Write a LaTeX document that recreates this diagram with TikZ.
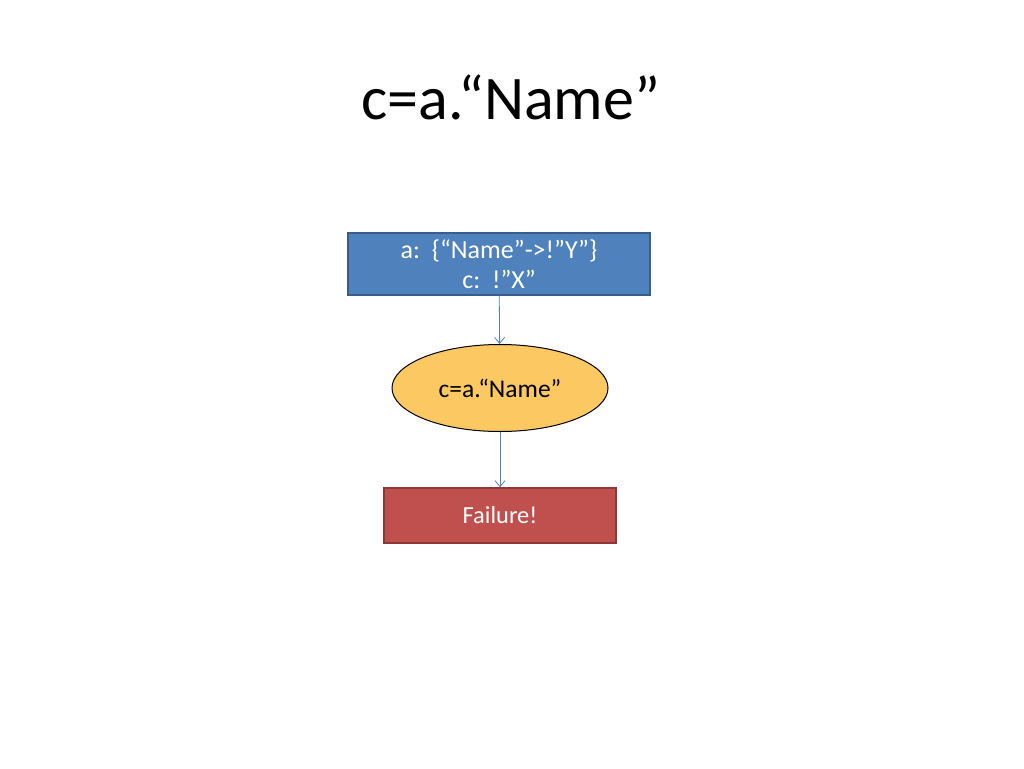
\documentclass[tikz,border=0pt]{standalone}
\usepackage{fontspec}
\setmainfont{Carlito}
\usepackage{tikz}
\usetikzlibrary{positioning}
\usetikzlibrary{arrows.meta}
\usetikzlibrary{shapes.geometric}

\definecolor{boxblue}{HTML}{4F81BD}
\definecolor{boxblueline}{HTML}{385D8A}
\definecolor{boxred}{HTML}{C0504D}
\definecolor{boxredline}{HTML}{8C3836}
\definecolor{ovalfill}{HTML}{FCC862}

\begin{document}
\begin{tikzpicture}[x=1pt, y=-1pt]
    \tikzstyle{state}=[rectangle, fill=boxblue, draw=boxblueline, line width=1.5pt,
            minimum width=302pt, minimum height=62pt, inner sep=0pt,
            text=white, font=\fontsize{26}{30}\selectfont, align=center]
    \tikzstyle{expr}=[ellipse, fill=ovalfill, draw=black, line width=1pt,
            minimum width=216pt, minimum height=87pt, inner sep=0pt,
            font=\fontsize{25.5}{30}\selectfont]
    \tikzstyle{result}=[rectangle, fill=boxred, draw=boxredline, line width=1.5pt,
            minimum width=232pt, minimum height=55pt, inner sep=0pt,
            text=white, font=\fontsize{24.5}{30}\selectfont]
    \tikzstyle{flow}=[boxblue, line width=0.8pt, -{Straight Barb[length=6pt, width=10pt]}]

        \useasboundingbox (0,0) rectangle (1024,768);

        \node[font=\fontsize{62}{74}\selectfont] (title) at (511,97) {c=a.“Name”};

        \node[state] (env) at (499,264) {a:\ \ \{“Name”->!”Y”\}\\c:\ \ !”X”};
        \node[expr] (eval) at (500,388) {c=a.“Name”};
        \node[result] (fail) at (500,515.5) {Failure!};

        \draw[flow] (env) -- (eval);
        \draw[flow] (eval) -- (fail);
    \end{tikzpicture}
\end{document}
